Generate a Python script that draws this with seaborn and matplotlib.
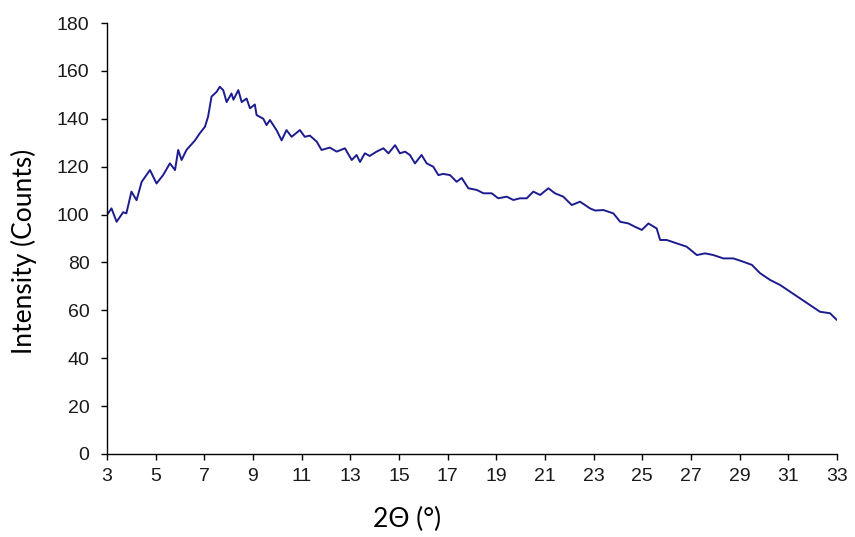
import matplotlib
matplotlib.use("Agg")
import pandas as pd
import matplotlib.pyplot as plt
import seaborn as sns

# Points (2-theta in degrees, intensity in counts)
two_theta = [3.00, 3.19, 3.40, 3.67, 3.80, 4.01, 4.22, 4.43, 4.77, 5.04,
             5.31, 5.59, 5.80, 5.93, 6.07, 6.27, 6.62, 6.82, 7.03, 7.16,
             7.30, 7.51, 7.64, 7.78, 7.92, 8.12, 8.20, 8.40, 8.54, 8.74,
             8.88, 9.08, 9.15, 9.43, 9.56, 9.70, 9.97, 10.18, 10.38, 10.59,
             10.93, 11.13, 11.34, 11.62, 11.82, 12.16, 12.44, 12.78, 13.06, 13.26,
             13.40, 13.60, 13.80, 14.08, 14.36, 14.57, 14.84, 15.04, 15.25, 15.45,
             15.66, 15.93, 16.14, 16.41, 16.62, 16.82, 17.10, 17.37, 17.58, 17.85,
             18.20, 18.47, 18.81, 19.08, 19.43, 19.70, 19.97, 20.25, 20.52, 20.80,
             21.14, 21.41, 21.75, 22.10, 22.44, 22.85, 23.06, 23.40, 23.81, 24.09,
             24.43, 24.70, 24.98, 25.25, 25.59, 25.73, 26.00, 26.41, 26.82, 27.24,
             27.58, 27.92, 28.33, 28.74, 29.15, 29.50, 29.84, 30.25, 30.66, 31.07,
             31.48, 31.89, 32.30, 32.71, 32.99]
intensity = [99.8, 102.6, 97.0, 101.0, 100.5, 109.6, 106.0, 113.7, 118.6, 113.0,
             116.5, 121.4, 118.6, 127.0, 122.8, 127.0, 131.0, 134.0, 136.7, 141.0,
             149.3, 151.3, 153.4, 152.0, 147.0, 150.6, 148.0, 152.0, 147.0, 148.5,
             144.4, 146.0, 141.6, 140.0, 137.4, 139.5, 135.3, 131.0, 135.3, 132.5,
             135.3, 132.5, 133.0, 130.5, 127.0, 128.0, 126.3, 127.7, 122.8, 124.9,
             122.0, 125.6, 124.5, 126.3, 127.7, 125.6, 129.0, 125.6, 126.3, 124.9,
             121.4, 124.9, 121.4, 120.0, 116.5, 117.0, 116.5, 113.7, 115.3, 111.0,
             110.3, 108.9, 108.9, 106.8, 107.5, 106.1, 106.8, 106.8, 109.6, 108.2,
             111.0, 108.9, 107.5, 104.0, 105.4, 102.6, 101.7, 101.9, 100.5, 97.0,
             96.3, 94.9, 93.6, 96.3, 94.2, 89.4, 89.4, 88.0, 86.6, 83.1,
             83.8, 83.1, 81.7, 81.7, 80.3, 79.0, 75.5, 72.7, 70.6, 67.8,
             65.0, 62.2, 59.4, 58.8, 56.0]

x_ticks = list(range(3, 34, 2))
y_ticks = list(range(0, 181, 20))

df = pd.DataFrame({"two_theta": two_theta, "intensity": intensity})

sns.set_style("ticks")
plt.rcParams["font.family"] = ["Liberation Sans", "DejaVu Sans"]
plt.rcParams["text.color"] = "black"
plt.rcParams["axes.labelcolor"] = "black"

fig = plt.figure(figsize=(8.55, 5.37), dpi=100)
ax = fig.add_axes([0.125, 0.1546, 0.854, 0.8024])

sns.lineplot(x="two_theta", y="intensity", data=df, sort=False,
             color="#1c1c8f", linewidth=1.4, ax=ax)

ax.set_xlim(3, 33)
ax.set_ylim(0, 180)
ax.set_xticks(x_ticks)
ax.set_yticks(y_ticks)
ax.tick_params(axis="both", labelsize=14, length=4.5, width=1, colors="black",
               labelcolor="#1a1a1a")
ax.tick_params(axis="x", pad=5.5)
ax.tick_params(axis="y", pad=8)
sns.despine(ax=ax)
for s in ["left", "bottom"]:
    ax.spines[s].set_color("black")
    ax.spines[s].set_linewidth(1)

ax.set_xlabel("2Θ (°)", fontsize=19, family=["Lato", "DejaVu Sans"])
ax.set_ylabel("Intensity (Counts)", fontsize=19, family=["Lato", "DejaVu Sans"])
ax.xaxis.set_label_coords(0.411, -0.122)
ax.yaxis.set_label_coords(-0.096, 0.47)

fig.savefig("out.png", dpi=100)
